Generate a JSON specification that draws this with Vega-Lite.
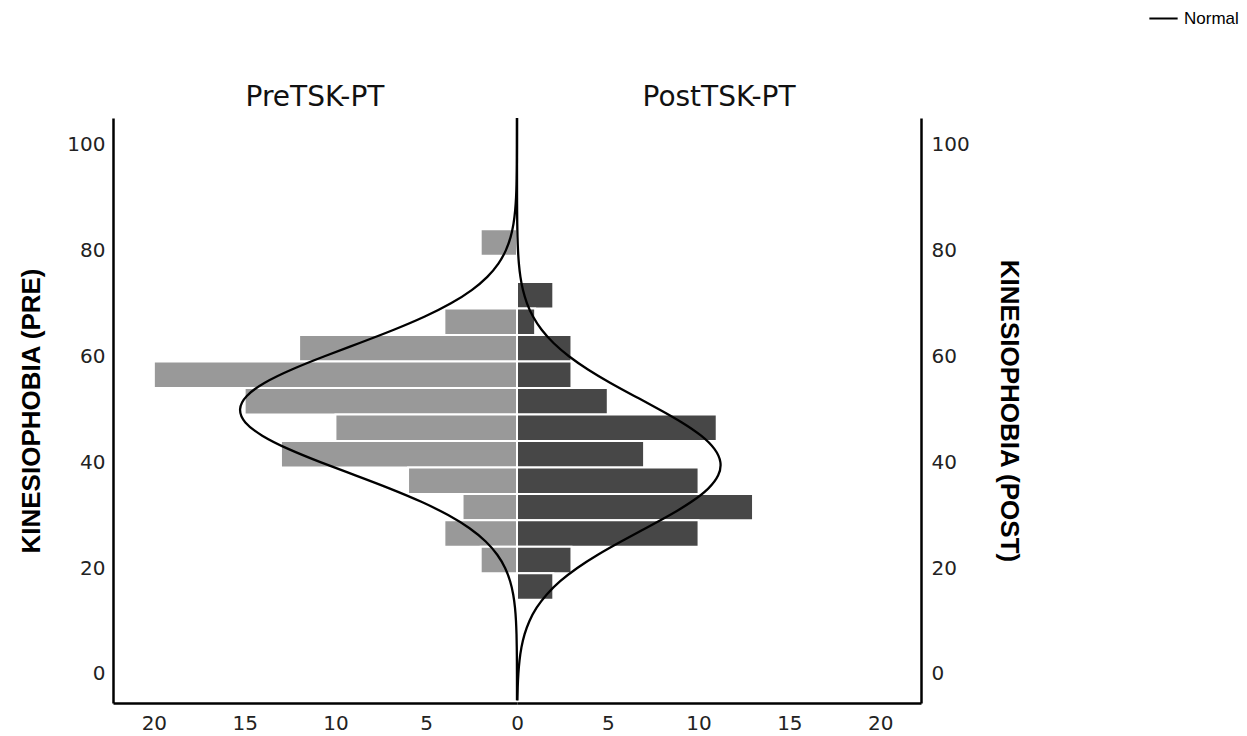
{
  "$schema": "https://vega.github.io/schema/vega-lite/v6.json",
  "background": "white",
  "padding": {"left": 18, "top": 3, "right": 5, "bottom": 5},
  "bounds": "flush",
  "spacing": 0,
  "datasets": {
    "bins": [
      {"side": "pre", "lo": 79, "hi": 84, "count": 2},
      {"side": "pre", "lo": 64, "hi": 69, "count": 4},
      {"side": "pre", "lo": 59, "hi": 64, "count": 12},
      {"side": "pre", "lo": 54, "hi": 59, "count": 20},
      {"side": "pre", "lo": 49, "hi": 54, "count": 15},
      {"side": "pre", "lo": 44, "hi": 49, "count": 10},
      {"side": "pre", "lo": 39, "hi": 44, "count": 13},
      {"side": "pre", "lo": 34, "hi": 39, "count": 6},
      {"side": "pre", "lo": 29, "hi": 34, "count": 3},
      {"side": "pre", "lo": 24, "hi": 29, "count": 4},
      {"side": "pre", "lo": 19, "hi": 24, "count": 2},
      {"side": "post", "lo": 69, "hi": 74, "count": 2},
      {"side": "post", "lo": 64, "hi": 69, "count": 1},
      {"side": "post", "lo": 59, "hi": 64, "count": 3},
      {"side": "post", "lo": 54, "hi": 59, "count": 3},
      {"side": "post", "lo": 49, "hi": 54, "count": 5},
      {"side": "post", "lo": 44, "hi": 49, "count": 11},
      {"side": "post", "lo": 39, "hi": 44, "count": 7},
      {"side": "post", "lo": 34, "hi": 39, "count": 10},
      {"side": "post", "lo": 29, "hi": 34, "count": 13},
      {"side": "post", "lo": 24, "hi": 29, "count": 10},
      {"side": "post", "lo": 19, "hi": 24, "count": 3},
      {"side": "post", "lo": 14, "hi": 19, "count": 2}
    ],
    "curve": [
      {"side": "pre", "y": -5, "f": 0.0004}, {"side": "pre", "y": -2.5, "f": 0.001}, {"side": "pre", "y": 0, "f": 0.0024},
      {"side": "pre", "y": 2.5, "f": 0.0056}, {"side": "pre", "y": 5, "f": 0.0126}, {"side": "pre", "y": 7.5, "f": 0.027},
      {"side": "pre", "y": 10, "f": 0.056}, {"side": "pre", "y": 12.5, "f": 0.111}, {"side": "pre", "y": 15, "f": 0.209},
      {"side": "pre", "y": 17.5, "f": 0.379}, {"side": "pre", "y": 20, "f": 0.656}, {"side": "pre", "y": 22.5, "f": 1.087},
      {"side": "pre", "y": 25, "f": 1.724}, {"side": "pre", "y": 27.5, "f": 2.614}, {"side": "pre", "y": 30, "f": 3.794},
      {"side": "pre", "y": 32.5, "f": 5.269}, {"side": "pre", "y": 35, "f": 7.0}, {"side": "pre", "y": 37.5, "f": 8.9},
      {"side": "pre", "y": 40, "f": 10.83}, {"side": "pre", "y": 42.5, "f": 12.6}, {"side": "pre", "y": 45, "f": 14.03},
      {"side": "pre", "y": 47.5, "f": 14.96}, {"side": "pre", "y": 50, "f": 15.25}, {"side": "pre", "y": 52.5, "f": 14.88},
      {"side": "pre", "y": 55, "f": 13.89}, {"side": "pre", "y": 57.5, "f": 12.4}, {"side": "pre", "y": 60, "f": 10.6},
      {"side": "pre", "y": 62.5, "f": 8.668}, {"side": "pre", "y": 65, "f": 6.782}, {"side": "pre", "y": 67.5, "f": 5.077},
      {"side": "pre", "y": 70, "f": 3.638}, {"side": "pre", "y": 72.5, "f": 2.494}, {"side": "pre", "y": 75, "f": 1.635},
      {"side": "pre", "y": 77.5, "f": 1.025}, {"side": "pre", "y": 80, "f": 0.6155}, {"side": "pre", "y": 82.5, "f": 0.3537},
      {"side": "pre", "y": 85, "f": 0.1943}, {"side": "pre", "y": 87.5, "f": 0.1022}, {"side": "pre", "y": 90, "f": 0.0514},
      {"side": "pre", "y": 92.5, "f": 0.0248}, {"side": "pre", "y": 95, "f": 0.0114}, {"side": "pre", "y": 97.5, "f": 0.005},
      {"side": "pre", "y": 100, "f": 0.0021}, {"side": "pre", "y": 102.5, "f": 0.0009}, {"side": "pre", "y": 105, "f": 0.0003},
      {"side": "post", "y": -5, "f": 0.0193}, {"side": "post", "y": -2.5, "f": 0.0387}, {"side": "post", "y": 0, "f": 0.0745},
      {"side": "post", "y": 2.5, "f": 0.138}, {"side": "post", "y": 5, "f": 0.245}, {"side": "post", "y": 7.5, "f": 0.419},
      {"side": "post", "y": 10, "f": 0.687}, {"side": "post", "y": 12.5, "f": 1.082}, {"side": "post", "y": 15, "f": 1.639},
      {"side": "post", "y": 17.5, "f": 2.379}, {"side": "post", "y": 20, "f": 3.32}, {"side": "post", "y": 22.5, "f": 4.452},
      {"side": "post", "y": 25, "f": 5.733}, {"side": "post", "y": 27.5, "f": 7.088}, {"side": "post", "y": 30, "f": 8.42},
      {"side": "post", "y": 32.5, "f": 9.606}, {"side": "post", "y": 35, "f": 10.53}, {"side": "post", "y": 37.5, "f": 11.08},
      {"side": "post", "y": 40, "f": 11.2}, {"side": "post", "y": 42.5, "f": 10.87}, {"side": "post", "y": 45, "f": 10.14},
      {"side": "post", "y": 47.5, "f": 9.081}, {"side": "post", "y": 50, "f": 7.812}, {"side": "post", "y": 52.5, "f": 6.456},
      {"side": "post", "y": 55, "f": 5.123}, {"side": "post", "y": 57.5, "f": 3.907}, {"side": "post", "y": 60, "f": 2.86},
      {"side": "post", "y": 62.5, "f": 2.011}, {"side": "post", "y": 65, "f": 1.358}, {"side": "post", "y": 67.5, "f": 0.8816},
      {"side": "post", "y": 70, "f": 0.5495}, {"side": "post", "y": 72.5, "f": 0.3287}, {"side": "post", "y": 75, "f": 0.1888},
      {"side": "post", "y": 77.5, "f": 0.1042}, {"side": "post", "y": 80, "f": 0.0553}, {"side": "post", "y": 82.5, "f": 0.0281},
      {"side": "post", "y": 85, "f": 0.0137}, {"side": "post", "y": 87.5, "f": 0.0065}, {"side": "post", "y": 90, "f": 0.0029},
      {"side": "post", "y": 92.5, "f": 0.0013}, {"side": "post", "y": 95, "f": 0.0005}, {"side": "post", "y": 97.5, "f": 0.0002},
      {"side": "post", "y": 100, "f": 0.0001}, {"side": "post", "y": 102.5, "f": 0}, {"side": "post", "y": 105, "f": 0}
    ]
  },
  "config": {
    "view": {"stroke": null},
    "axis": {
      "domainColor": "#000000",
      "domainWidth": 2.5,
      "ticks": false,
      "grid": false,
      "labelFlush": false,
      "labelFont": "DejaVu Sans",
      "labelFontSize": 20,
      "labelColor": "#222222",
      "titleFont": "Liberation Sans",
      "titleFontWeight": "bold",
      "titleFontSize": 26,
      "titleColor": "#000000"
    },
    "title": {"font": "DejaVu Sans", "fontSize": 28, "fontWeight": "normal", "color": "#111111", "offset": 1},
    "legend": {
      "orient": "none",
      "legendX": 1035,
      "legendY": -115,
      "title": null,
      "symbolType": "stroke",
      "symbolStrokeWidth": 2,
      "symbolSize": 800,
      "labelOffset": 5,
      "labelFont": "Liberation Sans",
      "labelFontSize": 17,
      "labelColor": "#000000"
    }
  },
  "hconcat": [
    {
      "width": 404,
      "height": 585,
      "title": "PreTSK-PT",
      "layer": [
        {
          "data": {"name": "bins"},
          "transform": [{"filter": "datum.side == 'pre'"}],
          "mark": {"type": "bar", "color": "#999999", "stroke": "#ffffff", "strokeWidth": 2},
          "encoding": {
            "x": {"field": "count", "type": "quantitative", "scale": {"domain": [0, 22.25], "reverse": true, "nice": false},
                  "axis": {"values": [0, 5, 10, 15, 20], "title": null, "labelPadding": 10}},
            "x2": {"datum": 0},
            "y": {"field": "lo", "type": "quantitative", "scale": {"domain": [-5.5, 105], "nice": false, "zero": false},
                  "axis": {"values": [0, 20, 40, 60, 80, 100], "title": "KINESIOPHOBIA (PRE)", "labelPadding": 8, "titlePadding": 22}},
            "y2": {"field": "hi"}
          }
        },
        {
          "data": {"name": "curve"},
          "transform": [{"filter": "datum.side == 'pre'"}],
          "mark": {"type": "line", "strokeWidth": 2.3, "interpolate": "natural"},
          "encoding": {
            "x": {"field": "f", "type": "quantitative"},
            "y": {"field": "y", "type": "quantitative"},
            "order": {"field": "y", "type": "quantitative"},
            "color": {"datum": "Normal", "type": "nominal", "scale": {"range": ["#000000"]}}
          }
        },
        {
          "mark": {"type": "rule", "color": "#000000", "strokeWidth": 2.5},
          "encoding": {"x": {"datum": 0}}
        }
      ]
    },
    {
      "width": 404,
      "height": 585,
      "title": "PostTSK-PT",
      "layer": [
        {
          "data": {"name": "bins"},
          "transform": [{"filter": "datum.side == 'post'"}],
          "mark": {"type": "bar", "color": "#474747", "stroke": "#ffffff", "strokeWidth": 2},
          "encoding": {
            "x": {"field": "count", "type": "quantitative", "scale": {"domain": [0, 22.25], "nice": false},
                  "axis": {"values": [5, 10, 15, 20], "title": null, "labelPadding": 10}},
            "x2": {"datum": 0},
            "y": {"field": "lo", "type": "quantitative", "scale": {"domain": [-5.5, 105], "nice": false, "zero": false},
                  "axis": {"orient": "right", "values": [0, 20, 40, 60, 80, 100], "title": "KINESIOPHOBIA (POST)", "labelPadding": 10, "titlePadding": 26}},
            "y2": {"field": "hi"}
          }
        },
        {
          "data": {"name": "curve"},
          "transform": [{"filter": "datum.side == 'post'"}],
          "mark": {"type": "line", "strokeWidth": 2.3, "interpolate": "natural"},
          "encoding": {
            "x": {"field": "f", "type": "quantitative"},
            "y": {"field": "y", "type": "quantitative"},
            "order": {"field": "y", "type": "quantitative"},
            "color": {"datum": "Normal", "type": "nominal", "scale": {"range": ["#000000"]}}
          }
        },
        {
          "mark": {"type": "rule", "color": "#000000", "strokeWidth": 2.5},
          "encoding": {"x": {"datum": 0}}
        }
      ]
    }
  ]
}
